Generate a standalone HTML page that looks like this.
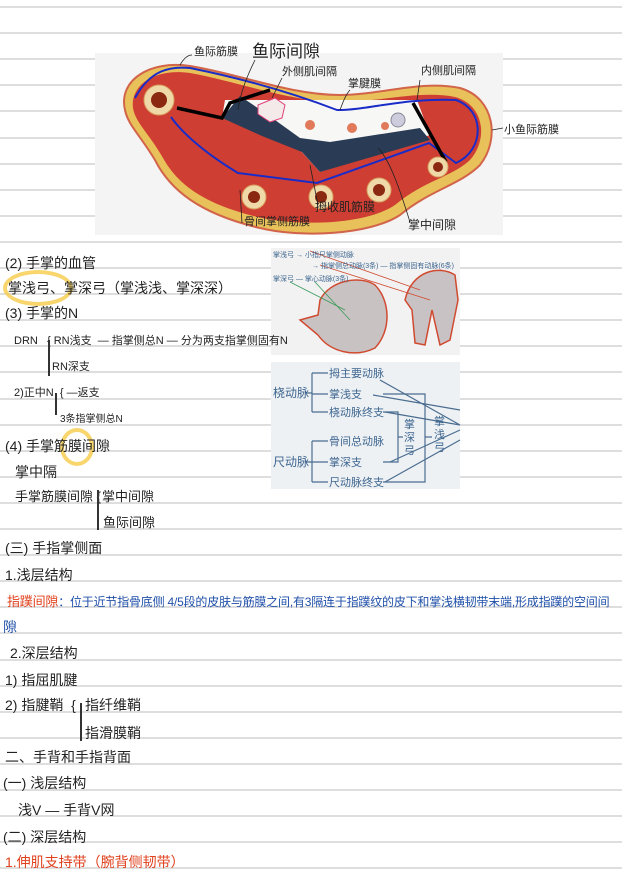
<!DOCTYPE html>
<html><head><meta charset="utf-8">
<style>
body{margin:0;width:622px;height:876px;background:#fff;position:relative;overflow:hidden;font-family:"Liberation Sans","Noto Sans CJK SC",sans-serif;}
.ln{position:absolute;left:0;width:622px;height:2px;background:#dedede;}
.t{position:absolute;white-space:nowrap;color:#222;font-size:14px;line-height:16px;transform:translateY(-8px);}
.s{font-size:11px;}
.red{color:#e0401c;}
.blue{color:#1f4fa8;}
.br{position:absolute;width:1.5px;background:#333;}
.hl{position:absolute;border:4px solid rgba(245,200,60,0.75);border-radius:50%;}
svg{position:absolute;left:0;top:0;}
</style></head><body>
<script>
for(let k=0;k<34;k++){document.write('<div class="ln" style="top:'+(6+26.1*k).toFixed(1)+'px"></div>');}
</script>

<svg width="622" height="876" viewBox="0 0 622 876">
 <rect x="95" y="53" width="408" height="182" fill="#f4f4f4"/>
 <path d="M125,110 C118,80 150,60 190,66 C240,74 290,95 340,95 C380,95 420,80 460,88 C495,98 500,140 480,165 C460,185 430,190 400,215 C370,235 300,238 260,228 C200,214 170,190 155,160 C140,135 128,125 125,110 Z" fill="#e9c15a" stroke="#d2644a" stroke-width="2"/>
 <path d="M133,108 C130,85 155,68 190,73 C240,82 290,102 340,102 C380,102 420,90 455,97 C485,105 488,140 470,160 C450,178 425,180 395,205 C365,225 300,226 262,218 C205,205 178,185 163,158 C150,135 135,122 133,108 Z" fill="#cf3e33"/>
 <path d="M225,100 L302,100 L417,100 L430,135 L320,172 L300,150 L262,135 L222,118 Z" fill="#f7f7f5"/>
 <path d="M222,118 L240,96 L268,115 L300,138 L330,142 L420,128 L430,140 L320,172 L302,152 L262,136 Z" fill="#2a3c55"/>
 <path d="M258,105 L275,98 L285,105 L282,118 L270,122 L258,114 Z" fill="#f4eaea" stroke="#e0407a" stroke-width="1"/>
 <path d="M135,98 C150,70 170,66 190,68 C240,78 290,92 337,110 C370,110 400,98 456,100 C485,110 485,150 456,163 L429,143 L317,183 L238,173 C200,150 180,130 171,117" fill="none" stroke="#1a2cc8" stroke-width="2"/>
 <path d="M177,108 L222,118 L230,103 L270,90" fill="none" stroke="#000" stroke-width="3.5"/>
 <path d="M413,103 L446,162" fill="none" stroke="#000" stroke-width="3.5"/>
 <g fill="#f0d9a8" stroke="#d6a060"><circle cx="159" cy="100" r="15"/><circle cx="254" cy="197" r="12"/><circle cx="321" cy="197" r="12"/><circle cx="379" cy="190" r="12"/><circle cx="438" cy="167" r="10"/></g>
 <g fill="#8a2812"><circle cx="159" cy="100" r="8"/><circle cx="254" cy="197" r="6"/><circle cx="321" cy="197" r="6"/><circle cx="379" cy="190" r="6"/><circle cx="438" cy="167" r="5"/></g>
 <g fill="#e07a5a"><circle cx="310" cy="125" r="5"/><circle cx="352" cy="128" r="5"/><circle cx="385" cy="126" r="4"/></g>
 <circle cx="398" cy="120" r="7" fill="#ccd" stroke="#889"/>
 <g fill="none" stroke="#222" stroke-width="0.8"><path d="M180,65 C184,58 188,55 192,55"/><path d="M255,60 C245,80 240,95 238,110"/><path d="M282,78 L272,98"/><path d="M350,90 C345,95 342,105 340,110"/><path d="M420,80 L417,100"/><path d="M492,130 L503,128"/><path d="M242,223 L240,190"/><path d="M318,205 L310,165"/><path d="M410,222 C400,190 390,160 378,148"/></g>
 <rect x="271" y="248" width="189" height="107" fill="#f2f2f2"/>
 <path d="M320,300 C330,280 360,275 375,285 C390,300 392,330 375,348 C355,358 330,352 318,335 L300,320 L318,315 Z" fill="#c9c2c2" stroke="#d04a30" stroke-width="1.5"/>
 <path d="M405,300 C412,270 440,265 455,275 L458,300 L450,340 L440,345 L432,310 L425,345 L415,343 L412,310 Z" fill="#c9c2c4" stroke="#d04a30" stroke-width="1.5"/>
 <g stroke="#d04a30" stroke-width="0.8"><line x1="310" y1="251" x2="420" y2="290"/><line x1="320" y1="265" x2="430" y2="300"/></g>
 <g stroke="#3a9a5a" stroke-width="0.8"><line x1="290" y1="282" x2="345" y2="310"/><line x1="315" y1="282" x2="350" y2="320"/></g>
 <rect x="271" y="362" width="189" height="127" fill="#eef1f4"/>
 <g stroke="#4a6d90" stroke-width="1.2" fill="none">
  <path d="M305,393 L312,393 M312,373 L312,412 M312,373 L328,373 M312,394 L328,394 M312,412 L328,412"/>
  <path d="M305,462 L312,462 M312,441 L312,482 M312,441 L328,441 M312,462 L328,462 M312,482 L328,482"/>
  <path d="M383,412 L398,412 L398,462 L383,462 M398,437 L403,437"/>
  <path d="M383,394 L425,394 L425,482 L383,482 M425,437 L432,437"/>
  <path d="M380,380 L460,425 M373,395 L460,410 M385,412 L460,425 M390,462 L460,430 M385,482 L460,440"/>
 </g>
 <g font-family="Liberation Sans,Noto Sans CJK SC,sans-serif" fill="#3e6690" font-size="11">
  <text x="273" y="397" font-size="12">桡动脉</text><text x="273" y="466" font-size="12">尺动脉</text>
  <text x="329" y="377">拇主要动脉</text><text x="329" y="398">掌浅支</text><text x="329" y="416">桡动脉终支</text>
  <text x="329" y="445">骨间总动脉</text><text x="329" y="466">掌深支</text><text x="329" y="486">尺动脉终支</text>
  <text x="404" y="428">掌</text><text x="404" y="441">深</text><text x="404" y="454">弓</text>
  <text x="434" y="425">掌</text><text x="434" y="438">浅</text><text x="434" y="451">弓</text>
  <text x="273" y="257" font-size="7">掌浅弓 → 小指尺掌侧动脉</text><text x="312" y="268" font-size="7">→ 指掌侧总动脉(3条) — 指掌侧固有动脉(6条)</text>
  <text x="273" y="281" font-size="7">掌深弓 — 掌心动脉(3条)</text>
 </g>
</svg>

<div class="t s" style="left:194px;top:52px">鱼际筋膜</div>
<div class="t" style="left:252px;top:52px;font-size:17px">鱼际间隙</div>
<div class="t s" style="left:282px;top:72px">外侧肌间隔</div>
<div class="t s" style="left:348px;top:84px">掌腱膜</div>
<div class="t s" style="left:421px;top:71px">内侧肌间隔</div>
<div class="t s" style="left:504px;top:130px">小鱼际筋膜</div>
<div class="t s" style="left:244px;top:222px">骨间掌侧筋膜</div>
<div class="t s" style="left:315px;top:207px;font-size:12px">拇收肌筋膜</div>
<div class="t s" style="left:408px;top:225px;font-size:12px">掌中间隙</div>

<div class="hl" style="left:3px;top:270px;width:62px;height:28px"></div>
<div class="hl" style="left:60px;top:428px;width:26px;height:30px"></div>

<div class="t" style="left:5px;top:263px">(2) 手掌的血管</div>
<div class="t" style="left:8px;top:288px">掌浅弓、掌深弓（掌浅浅、掌深深）</div>
<div class="t" style="left:5px;top:313px">(3) 手掌的N</div>
<div class="t s" style="left:14px;top:341px">DRN &nbsp;&nbsp;{ RN浅支 &nbsp;— 指掌侧总N — 分为两支指掌侧固有N</div>
<div class="br" style="left:48px;top:340px;height:36px"></div>
<div class="t s" style="left:52px;top:367px">RN深支</div>
<div class="t s" style="left:14px;top:393px">2)正中N &nbsp;{ —返支</div>
<div class="br" style="left:55px;top:393px;height:22px"></div>
<div class="t s" style="left:60px;top:420px;font-size:10px">3条指掌侧总N</div>
<div class="t" style="left:5px;top:446px">(4) 手掌筋膜间隙</div>
<div class="t" style="left:15px;top:472px">掌中隔</div>
<div class="t" style="left:15px;top:497px;font-size:13px">手掌筋膜间隙 {</div>
<div class="br" style="left:97px;top:490px;height:40px"></div>
<div class="t" style="left:102px;top:497px;font-size:13px">掌中间隙</div>
<div class="t" style="left:103px;top:523px;font-size:13px">鱼际间隙</div>

<div class="t" style="left:5px;top:548px">(三) 手指掌侧面</div>
<div class="t" style="left:5px;top:575px">1.浅层结构</div>
<div class="t" style="left:7px;top:602px;font-size:12px;letter-spacing:-0.2px"><span class="red" style="font-size:13px">指蹼间隙</span><span class="blue">：位于近节指骨底侧 4/5段的皮肤与筋膜之间,有3隔连于指蹼纹的皮下和掌浅横韧带末端,形成指蹼的空间间</span></div>
<div class="t blue" style="left:3px;top:627px">隙</div>
<div class="t" style="left:10px;top:653px">2.深层结构</div>
<div class="t" style="left:5px;top:680px">1) 指屈肌腱</div>
<div class="t" style="left:5px;top:705px">2) 指腱鞘 &nbsp;{</div>
<div class="br" style="left:80px;top:703px;height:38px"></div>
<div class="t" style="left:85px;top:705px">指纤维鞘</div>
<div class="t" style="left:85px;top:733px">指滑膜鞘</div>
<div class="t" style="left:5px;top:757px">二、手背和手指背面</div>
<div class="t" style="left:3px;top:783px">(一) 浅层结构</div>
<div class="t" style="left:18px;top:810px">浅V — 手背V网</div>
<div class="t" style="left:3px;top:837px">(二) 深层结构</div>
<div class="t red" style="left:5px;top:862px">1.伸肌支持带（腕背侧韧带）</div>
</body></html>
